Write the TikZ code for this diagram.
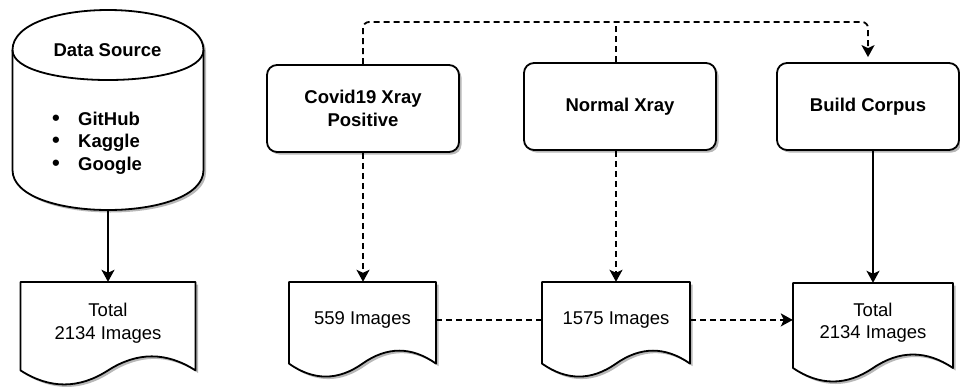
\documentclass[tikz,border=0pt]{standalone}
\usepackage{fontspec}
\setmainfont{Liberation Sans}
\usetikzlibrary{arrows.meta,calc,shadows}

\tikzset{
  shapeline/.style={draw=black, line width=1.8pt, fill=white, line join=round},
  castshadow/.style={fill=black!28, draw=none},
  labelfont/.style={font=\fontsize{18.5}{22.5}\selectfont},
  procbox/.style={shapeline, rounded corners=10pt, minimum height=87pt,
    align=center, inner sep=0pt, font=\bfseries\fontsize{18.5}{22.5}\selectfont,
    drop shadow={shadow xshift=2.5pt, shadow yshift=-2.5pt, fill=black!28, opacity=1}},
  textarea/.style={inner sep=0pt, draw=none, fill=none, align=center, labelfont},
  plainline/.style={line width=1.8pt},
  dashline/.style={plainline, dash pattern=on 6pt off 4pt},
  tip/.style={-{Stealth[length=12pt,width=13pt,inset=3pt]}},
}

% outline of a document shape with a wavy bottom edge; w and h in pt
\newcommand\docoutline[3]{% style, width, height
  \pgfmathsetmacro\dW{#2}\pgfmathsetmacro\dH{#3}\pgfmathsetmacro\dY{0.3*#3}%
  \path[#1] (0,0) -- (\dW,0) -- (\dW,\dH-0.5*\dY)
    .. controls (5*\dW/6,\dH-1.1*\dY) and (2*\dW/3,\dH-1.1*\dY) .. (\dW/2,\dH-0.5*\dY)
    .. controls (\dW/3,\dH+0.1*\dY) and (\dW/6,\dH+0.1*\dY) .. (0,\dH-0.5*\dY) -- cycle;
}
% document: name, left, top, width, height, text
\newcommand\docshape[6]{%
  \docoutline{castshadow, shift={(#2+2.5,#3+2.5)}}{#4}{#5}
  \docoutline{shapeline, shift={(#2,#3)}}{#4}{#5}
  \node[textarea, minimum width=#4pt, minimum height=0.79*#5pt]
    (#1) at (#2+#4/2, #3+0.395*#5) {#6};
}

\begin{document}
\begin{tikzpicture}[x=1pt, y=-1pt]
\useasboundingbox[fill=white] (0,0) rectangle (960,389);

% data source cylinder
\begin{scope}[shift={(12.5,10)}]
  \path[castshadow, shift={(2.5,2.5)}]
    (0,40) .. controls (0,-13.33) and (191,-13.33) .. (191,40) -- (191,160)
    .. controls (191,213.33) and (0,213.33) .. (0,160) -- cycle;
  \path[shapeline]
    (0,40) .. controls (0,-13.33) and (191,-13.33) .. (191,40) -- (191,160)
    .. controls (191,213.33) and (0,213.33) .. (0,160) -- cycle;
  \draw[plainline] (0,40) .. controls (0,80) and (191,80) .. (191,40);
\end{scope}
\node[textarea, minimum width=191pt, minimum height=200pt] (src) at (108,110) {};
\node[textarea, font=\bfseries\fontsize{18.5}{22.5}\selectfont] (srctitle) at (107.5,50) {Data Source};
\node[textarea, anchor=west, align=left, font=\bfseries\fontsize{18.5}{22.5}\selectfont]
  (srclist) at (52,143)
  {\makebox[26pt][l]{\fontsize{22}{22.5}\selectfont\textbullet}GitHub\\
   \makebox[26pt][l]{\fontsize{22}{22.5}\selectfont\textbullet}Kaggle\\
   \makebox[26pt][l]{\fontsize{22}{22.5}\selectfont\textbullet}Google};

% process boxes
\node[procbox, minimum width=192pt] (covid)  at (363,108.5) {Covid19 Xray\\Positive};
\node[procbox, minimum width=192pt] (normal) at (620,106.5) {Normal Xray};
\node[procbox, minimum width=182pt] (build)  at (868,106.5) {Build Corpus};

% documents
\docshape{doc1}{20.5}{282}{175}{104}{Total\\2134 Images}
\docshape{doc2}{289}{282}{147}{96}{559 Images}
\docshape{doc3}{542}{282}{148}{96}{1575 Images}
\docshape{doc4}{793}{283}{160}{100}{Total\\2134 Images}

% connectors
\coordinate (bus) at (0,22);
\draw[plainline, tip] (src.south) -- (doc1.north);
\draw[dashline, tip, rounded corners=6pt, shorten >=5pt]
  (covid.north) |- (bus -| build.north) -- (build.north);
\draw[dashline] (doc3.north |- normal.north) -- (doc3.north |- bus);
\draw[dashline, tip] (covid.south) -- (covid.south |- doc2.north);
\draw[dashline, tip] (doc3.north |- normal.south) -- (doc3.north);
\draw[dashline] (doc2.east) -- (doc3.west);
\draw[dashline, tip] (doc3.east) -- (doc3.east -| doc4.west);
\draw[plainline, tip] (build.south -| doc4.north) -- (doc4.north);
\end{tikzpicture}
\end{document}
